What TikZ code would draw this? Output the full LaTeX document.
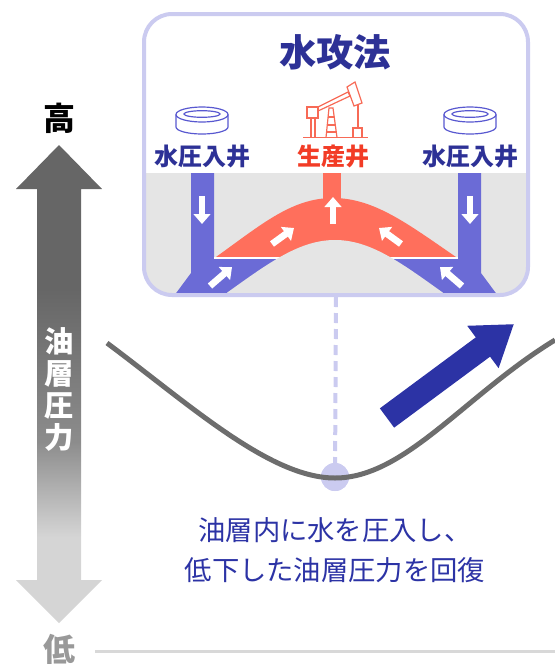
\documentclass[tikz,border=0pt]{standalone}
\usepackage{fontspec}
\newfontfamily\jp{Noto Sans CJK JP}
\usetikzlibrary{arrows.meta}

\definecolor{boxline}{RGB}{203,203,240}
\definecolor{bandgray}{RGB}{229,229,229}
\definecolor{pipeblue}{RGB}{107,107,214}
\definecolor{oilred}{RGB}{255,111,92}
\definecolor{navy}{RGB}{45,49,150}
\definecolor{prodred}{RGB}{242,60,38}
\definecolor{pumpred}{RGB}{247,106,86}
\definecolor{ringblue}{RGB}{88,88,208}
\definecolor{risecolor}{RGB}{44,51,165}
\definecolor{curvegray}{RGB}{109,109,109}
\definecolor{presshigh}{RGB}{102,102,102}
\definecolor{pressmid}{RGB}{140,140,140}
\definecolor{presslow}{RGB}{213,213,213}
\definecolor{baseline}{RGB}{216,216,216}

\pgfdeclareverticalshading{pressure}{100bp}{color(0bp)=(presslow); color(34bp)=(presslow); color(44bp)=(pressmid); color(60bp)=(presshigh); color(100bp)=(presshigh)}

\tikzstyle{flowarrow} = [white, line width=5pt, -{Triangle[length=7.5pt,width=12.5pt]}]
\tikzstyle{risearrow} = [risecolor, line width=18pt, -{Triangle[length=29pt,width=37.5pt]}]
\tikzstyle{welltext} = [inner sep=0.75pt, font=\jp\bfseries\fontsize{18}{20}\selectfont]

\begin{document}
\begin{tikzpicture}[x=0.75pt,y=0.75pt,yscale=-1,xscale=1]
\useasboundingbox (0,0) rectangle (555,665);

%Straight Lines: base line
\draw [color=baseline, line width=2.25pt] (95,651) -- (555,651) ;

%Shape: pressure arrow
\shade [shading=pressure] (59,145) -- (102,189) -- (81,189) -- (81,580) -- (102,580) -- (59,623) -- (16,580) -- (37,580) -- (37,189) -- (16,189) -- cycle ;

%Shape: panel contents
\begin{scope}
\clip [rounded corners=21pt] (144,14) rectangle (528,295) ;
\fill [bandgray] (144,173) rectangle (528,295) ;
%injection pipes
\fill [pipeblue] (191,173) -- (214,173) -- (214,258) -- (335,258) -- (335,300) -- (171,300) -- (191,273) -- cycle ;
\fill [pipeblue] (481,173) -- (458,173) -- (458,258) -- (335,258) -- (335,300) -- (501,300) -- (481,273) -- cycle ;
%oil dome
\fill [oilred] (323,173) rectangle (341,205) ;
\fill [oilred] (216,257) .. controls (262,224) and (292,198) .. (333,198) .. controls (374,198) and (408,224) .. (456,257) -- cycle ;
\draw [white, line width=1.5pt] (214,258) -- (458,258) ;
%hump
\fill [bandgray] (218,300) -- (228,292) .. controls (270,262) and (300,240) .. (335,240) .. controls (370,240) and (400,262) .. (442,292) -- (452,300) -- cycle ;
%flow arrows
\draw [flowarrow] (202,196) -- (202,224) ;
\draw [flowarrow] (470,196) -- (470,224) ;
\draw [flowarrow] (333,224) -- (333,197) ;
\draw [flowarrow] (272,244) -- (294,228) ;
\draw [flowarrow] (401,244) -- (379,228) ;
\draw [flowarrow] (210,286) -- (232,267) ;
\draw [flowarrow] (462,286) -- (440,267) ;
\end{scope}

%Shape: panel frame
\node (panel) [draw=boxline, line width=3pt, rounded corners=21pt, minimum width=288pt, minimum height=210.75pt, inner sep=0pt] at (336,154.5) {} ;

%Shape: injection well icons
\draw [ringblue, line width=0.9pt] (202,114.5) ellipse [x radius=26, y radius=7.5] ;
\draw [ringblue, line width=0.9pt] (202,114) ellipse [x radius=18, y radius=3.3] ;
\draw [ringblue, line width=0.9pt] (176,114.5) -- (176,127) arc [start angle=180, end angle=0, x radius=26, y radius=7] -- (228,114.5) ;
\draw [ringblue, line width=0.9pt] (470,114.5) ellipse [x radius=26, y radius=7.5] ;
\draw [ringblue, line width=0.9pt] (470,114) ellipse [x radius=18, y radius=3.3] ;
\draw [ringblue, line width=0.9pt] (444,114.5) -- (444,127) arc [start angle=180, end angle=0, x radius=26, y radius=7] -- (496,114.5) ;

%Shape: pump jack
\draw [pumpred, line width=0.9pt] (303,137.5) -- (368,137.5) ;
\draw [pumpred, line width=0.9pt] (307,107) rectangle (318,118) ;
\draw [pumpred, line width=0.9pt] (311,118) -- (311,137.5) (315,118) -- (315,137.5) ;
\draw [pumpred, line width=0.9pt] (318,107) -- (348,92) -- (350,96) -- (318,111) ;
\draw [pumpred, line width=0.9pt] (326,137.5) -- (329,108) -- (333,108) -- (337,137.5) ;
\draw [pumpred, line width=0.9pt] (328.1,117) -- (334.2,117) (327.3,125) -- (335.3,125) (326.6,132) -- (336.3,132) ;
\draw [pumpred, line width=0.9pt] (347,87) -- (355,82) -- (362,103) -- (354,106) -- cycle ;
\draw [pumpred, line width=0.9pt] (358,104) -- (358,128) ;
\draw [pumpred, line width=0.9pt] (353,128) rectangle (362,137.5) ;

%Shape: low point marker
\node (lowpoint) [circle, fill=boxline, minimum size=21pt, inner sep=0pt] at (335,477) {} ;
\draw [boxline, line width=3pt, dash pattern={on 7.5pt off 4.5pt}] (panel.south) -- (lowpoint.center) ;
\node [circle, fill=boxline, minimum size=21pt, inner sep=0pt] at (lowpoint) {} ;

%Curve: reservoir pressure
\draw [curvegray, line width=3.75pt] (107,343) .. controls (190,405) and (270,478) .. (335,478) .. controls (405,478) and (465,395) .. (555,340) ;

%Shape: rise arrow
\coordinate (risetail) at (387,418) ;
\coordinate (risetip) at (514,324) ;
\draw [risearrow] (risetail) -- (risetip) ;

% Text Node
\node (title) at (335,52) [inner sep=0.75pt, text=navy, font=\jp\bfseries\fontsize{28}{30}\selectfont] {水攻法};
% Text Node
\node (injleft) at (202,156) [welltext, text=navy] {水圧入井};
% Text Node
\node (prod) at (333,156) [welltext, text=prodred] {生産井};
% Text Node
\node (injright) at (470,156) [welltext, text=navy] {水圧入井};
% Text Node
\node (high) at (59,118) [inner sep=0.75pt, text=black, font=\jp\bfseries\fontsize{24}{26}\selectfont] {高};
% Text Node
\node (low) at (59,649) [inner sep=0.75pt, text=black!40, font=\jp\bfseries\fontsize{24}{26}\selectfont] {低};
% Text Node
\node (axis) at (59,390) [inner sep=0.75pt, text=white, align=center, font=\jp\bfseries\fontsize{22}{24}\selectfont] {油\\層\\圧\\力};
% Text Node
\node (note) at (335,550) [inner sep=0.75pt, text=risecolor, align=center, font=\jp\fontsize{20.5}{30}\selectfont] {油層内に水を圧入し、\\低下した油層圧力を回復};

\end{tikzpicture}
\end{document}
